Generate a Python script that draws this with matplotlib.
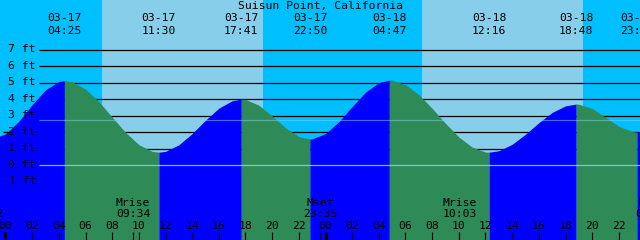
import matplotlib
matplotlib.use("Agg")
import matplotlib.pyplot as plt
import matplotlib.transforms as mtransforms
import numpy as np

# ---------------- data ----------------
title = "Suisun Point, California"

# tide curve (hours from 03-17 00:00, height in ft)
tide_hours = [-1, 0, 1, 2, 3, 4, 4.417, 5, 6, 7, 8, 9, 10, 11, 11.5,
              12, 13, 14, 15, 16, 17, 17.683, 18, 19, 20, 21, 22, 22.833,
              23, 24, 25, 26, 27, 28, 28.783, 29, 30, 31, 32, 33, 34, 35, 36,
              36.267, 37, 38, 39, 40, 41, 42, 42.8, 43, 44, 45, 46, 47,
              47.367, 48]
tide_ft = [1.60, 1.89, 2.66, 3.66, 4.56, 5.07, 5.12, 5.05, 4.61, 3.85, 2.91,
           1.98, 1.24, 0.83, 0.78, 0.83, 1.23, 1.91, 2.72, 3.45, 3.90, 4.00,
           3.98, 3.63, 2.98, 2.26, 1.73, 1.58, 1.59, 1.91, 2.63, 3.55, 4.42,
           5.00, 5.15, 5.14, 4.87, 4.27, 3.44, 2.53, 1.70, 1.09, 0.79, 0.78,
           0.87, 1.26, 1.87, 2.57, 3.19, 3.59, 3.70, 3.69, 3.43, 2.90, 2.35,
           2.03, 2.00, 2.09]

# high / low tide events (labelled at top)
event_hours = [4.417, 11.5, 17.683, 22.833, 28.783, 36.267, 42.8, 47.367]
event_dates = ["03-17", "03-17", "03-17", "03-17", "03-18", "03-18", "03-18", "03-18"]
event_times = ["04:25", "11:30", "17:41", "22:50", "04:47", "12:16", "18:48", "23:22"]

# moon events (labelled at bottom)
moon_hours = [-1.47, 9.567, 23.583, 34.05, 48.5]
moon_kinds = ["Mset", "Mrise", "Mset", "Mrise", "Mset"]
moon_times = ["22:32", "09:34", "23:35", "10:03", "00:30"]

# sunrise / sunset
sunrise_hours = [7.233, 31.233]
sunset_hours = [19.317, 43.317]

ft_levels = [7, 6, 5, 4, 3, 2, 1, 0, -1]
ft_labels = ["7 ft", "6 ft", "5 ft", "4 ft", "3 ft", "2 ft", "1 ft", "0 ft", "-1 ft"]
mean_level_ft = 2.71

hour_ticks = list(range(0, 50, 2))
hour_labels = ["%02d" % (h % 24) for h in hour_ticks]

# ---------------- layout ----------------
W, H = 640, 240
X0_PX = 5.5            # pixel of 03-17 00:00
PX_PER_H = 40.0 / 3.0
Y0_PX = 165.1          # pixel of 0 ft
PX_PER_FT = 16.5

def t_of(px):
    return (px - X0_PX) / PX_PER_H

def ft_of(py):
    return (Y0_PX - py) / PX_PER_FT

NIGHT = "#00bfff"
DAY = "#87ceeb"
RISE = "#0000ff"
FALL = "#2e8b57"
FS = 8.2
FONT = "DejaVu Sans Mono"

fig = plt.figure(figsize=(W / 100, H / 100), dpi=100)
ax = fig.add_axes([0, 0, 1, 1])
ax.set_axis_off()
ax.set_xlim(t_of(0), t_of(W))
ax.set_ylim(ft_of(H), ft_of(0))

pix = mtransforms.Affine2D().scale(1.0 / W, -1.0 / H).translate(0, 1) + ax.transAxes
x_data_y_pix = mtransforms.blended_transform_factory(ax.transData, pix)
x_pix_y_data = mtransforms.blended_transform_factory(pix, ax.transData)

# day / night background
ax.axvspan(t_of(-50), t_of(W + 50), color=NIGHT, zorder=0, lw=0)
for r, s in zip(sunrise_hours, sunset_hours):
    ax.axvspan(r, s, color=DAY, zorder=0.5, lw=0)

# black level lines (behind the water)
x_line0 = t_of(39)
for lv in ft_levels:
    if lv >= 1:
        ax.hlines(lv, x_line0, t_of(W + 5), colors="black", lw=0.9, zorder=1)

# tide fill, blue when rising, green when falling
th = np.array(tide_hours)
tf = np.array(tide_ft)
bounds = [th[0]] + event_hours + [th[-1]]
for a, b in zip(bounds[:-1], bounds[1:]):
    m = (th >= a - 1e-9) & (th <= b + 1e-9)
    seg_t, seg_f = th[m], tf[m]
    col = RISE if seg_f[-1] > seg_f[0] else FALL
    ax.fill_between(seg_t, seg_f, ft_of(H + 10), color=col, lw=0,
                    antialiased=False, zorder=2)

# zero line and mean line over the water
ax.hlines(0, x_line0, t_of(W + 5), colors="#87ceeb", lw=0.9, alpha=0.9, zorder=3)
ax.hlines(mean_level_ft, x_line0, t_of(W + 5), colors="#87ceeb", lw=0.9,
          alpha=0.5, zorder=3)

# y labels
for lv, lab in zip(ft_levels, ft_labels):
    yp = Y0_PX - lv * PX_PER_FT + 2.6
    ax.text(36, ft_of(yp), lab, transform=x_pix_y_data, ha="right",
            va="baseline", fontsize=FS, family=FONT, color="black", zorder=5)
# small dash beside the 2 ft label
ax.plot([3, 9.5], [132.2, 132.2], color="black", lw=1.0,
        transform=pix, zorder=5, solid_capstyle="butt")

# title
ax.text(320, 9.3, title, transform=pix, ha="center", va="baseline",
        fontsize=FS, family=FONT, color="black", zorder=5)

# tide event labels
for t, d, s in zip(event_hours, event_dates, event_times):
    ax.text(t, 21.3, d, transform=x_data_y_pix, ha="center", va="baseline",
            fontsize=FS, family=FONT, color="black", zorder=5, clip_on=True)
    ax.text(t, 34.0, s, transform=x_data_y_pix, ha="center", va="baseline",
            fontsize=FS, family=FONT, color="black", zorder=5, clip_on=True)

# moon labels + ticks
for t, k, s in zip(moon_hours, moon_kinds, moon_times):
    ax.text(t, 206.0, k, transform=x_data_y_pix, ha="center", va="baseline",
            fontsize=FS, family=FONT, color="black", zorder=5, clip_on=True)
    ax.text(t, 217.3, s, transform=x_data_y_pix, ha="center", va="baseline",
            fontsize=FS, family=FONT, color="black", zorder=5, clip_on=True)
    ax.plot([t, t], [232, 240], color="black", lw=0.8, transform=x_data_y_pix,
            zorder=5, solid_capstyle="butt")

# hour labels + ticks
for h, lab in zip(hour_ticks, hour_labels):
    ax.text(h, 229.3, lab, transform=x_data_y_pix, ha="center", va="baseline",
            fontsize=FS, family=FONT, color="black", zorder=5, clip_on=True)
    lw = 2.2 if h % 24 == 0 else 0.8
    ax.plot([h, h], [232, 240], color="black", lw=lw, transform=x_data_y_pix,
            zorder=5, solid_capstyle="butt")

fig.savefig("out.png", dpi=100)
